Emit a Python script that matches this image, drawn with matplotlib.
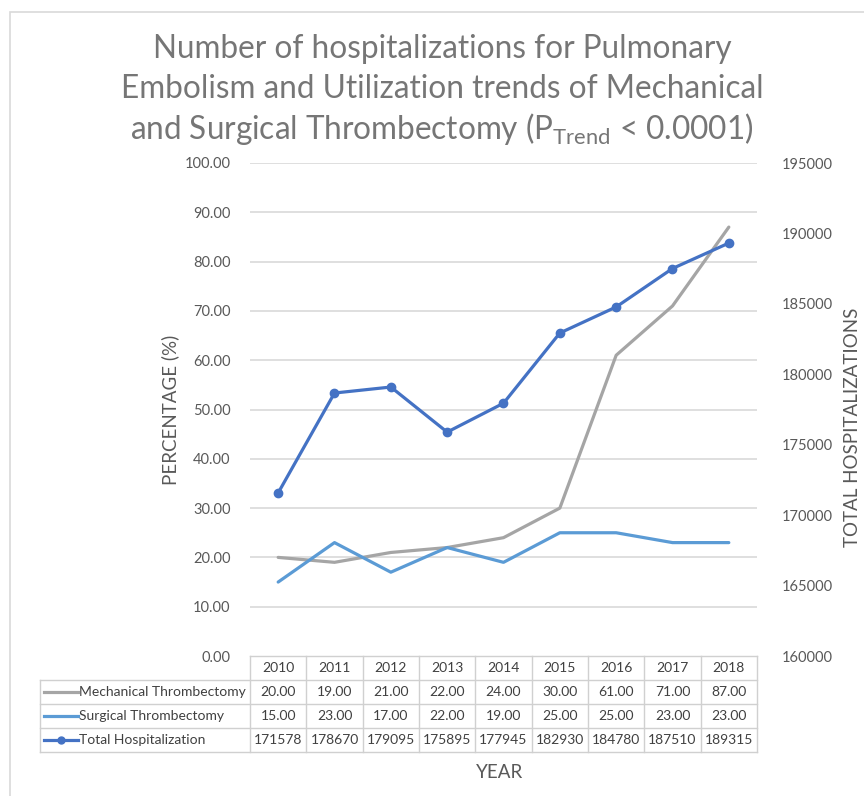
import numpy as np
import matplotlib
matplotlib.use("Agg")
import matplotlib.pyplot as plt
from matplotlib.lines import Line2D
from matplotlib.patches import Rectangle

plt.rcParams['font.family'] = ['Lato', 'DejaVu Sans']

# data
years = ['2010', '2011', '2012', '2013', '2014', '2015', '2016', '2017', '2018']
mechanical = [20.00, 19.00, 21.00, 22.00, 24.00, 30.00, 61.00, 71.00, 87.00]
surgical = [15.00, 23.00, 17.00, 22.00, 19.00, 25.00, 25.00, 23.00, 23.00]
total = [171578, 178670, 179095, 175895, 177945, 182930, 184780, 187510, 189315]
series_names = ['Mechanical Thrombectomy', 'Surgical Thrombectomy', 'Total Hospitalization']

c_mech = '#A5A5A5'
c_surg = '#5B9BD5'
c_total = '#4472C4'
c_grid = '#D9D9D9'
c_text = '#595959'

W, H = 864, 796
fig = plt.figure(figsize=(W / 100, H / 100), dpi=100)

def fx(px):
    return px / W

def fy(py):
    return 1 - py / H

# chart border (top and left visible)
fig.patches.append(Rectangle((fx(10), fy(H + 5)), fx(W + 10), fy(12) - fy(H + 5),
                             transform=fig.transFigure, fill=False,
                             edgecolor='#D9D9D9', lw=1.2))

left, right, top, bottom = 250, 757, 163, 656
ax = fig.add_axes([fx(left), fy(bottom), fx(right - left), fy(top) - fy(bottom)])
x = np.arange(len(years))

ax.plot(x, mechanical, color=c_mech, lw=2.3, solid_capstyle='round', zorder=3)
ax.plot(x, surgical, color=c_surg, lw=2.3, solid_capstyle='round', zorder=3)
ax.set_xlim(-0.5, len(years) - 0.5)
ax.set_ylim(0, 100)
ax.set_yticks(np.arange(0, 101, 10))
ax.set_yticklabels([f'{v:.2f}' for v in np.arange(0, 101, 10)])
ax.set_xticks([])
for v in range(10, 101, 10):
    ax.axhline(v, color=c_grid, lw=1.2, zorder=1)
for s in ax.spines.values():
    s.set_visible(False)
ax.tick_params(axis='y', length=0, pad=14, labelsize=10.5, labelcolor=c_text)

ax2 = ax.twinx()
ax2.plot(x, total, color=c_total, lw=2.3, marker='o', markersize=6, zorder=4)
ax2.set_ylim(160000, 195000)
ax2.set_yticks(np.arange(160000, 195001, 5000))
for s in ax2.spines.values():
    s.set_visible(False)
ax2.tick_params(axis='y', length=0, pad=18, labelsize=10.5, labelcolor=c_text)

# axis titles
fig.text(fx(170), fy(410), 'PERCENTAGE (%)', rotation=90, ha='center', va='center',
         fontsize=13.5, color=c_text)
fig.text(fx(852), fy(427), 'TOTAL HOSPITALIZATIONS', rotation=90, ha='center', va='center',
         fontsize=13.5, color=c_text)
fig.text(fx(500), fy(773), 'YEAR', ha='center', va='center', fontsize=13.5, color=c_text)

# title
title_lines = ['Number of hospitalizations for Pulmonary',
               'Embolism and Utilization trends of Mechanical',
               r'and Surgical Thrombectomy ($\mathregular{P_{Trend}}$ < 0.0001)']
for i, line in enumerate(title_lines):
    fig.text(fx(442), fy(49 + 40 * i), line, ha='center', va='center',
             fontsize=22.7, color='#767676')

# data table
t_left, t_top, t_bot = 40, 656, 752
col_w = (right - left) / len(years)
lab_w = (left - t_left) / col_w
tax = fig.add_axes([fx(t_left), fy(t_bot), fx(right - t_left), fy(t_top) - fy(t_bot)])
tax.set_xlim(-0.5 - lab_w, len(years) - 0.5)
tax.set_ylim(4, 0)
tax.axis('off')
lc = '#D0D0D0'
x0 = -0.5 - lab_w
x1 = len(years) - 0.5
tax.plot([-0.5, x1], [0, 0], color=lc, lw=1, clip_on=False)
for r in range(1, 5):
    tax.plot([x0, x1], [r, r], color=lc, lw=1, clip_on=False)
tax.plot([x0, x0], [1, 4], color=lc, lw=1, clip_on=False)
for k in range(len(years) + 1):
    tax.plot([k - 0.5, k - 0.5], [0, 4], color=lc, lw=1, clip_on=False)

tfs = 10
for i, yr in enumerate(years):
    tax.text(i, 0.5, yr, ha='center', va='center', fontsize=tfs, color='#404040')
rows = [[f'{v:.2f}' for v in mechanical],
        [f'{v:.2f}' for v in surgical],
        [f'{v}' for v in total]]
colors = [c_mech, c_surg, c_total]
for r, (name, vals, c) in enumerate(zip(series_names, rows, colors)):
    yy = r + 1.5
    for i, v in enumerate(vals):
        tax.text(i, yy, v, ha='center', va='center', fontsize=tfs, color='#404040')
    sx0 = x0 + 4 / col_w
    sx1 = x0 + 38 / col_w
    tax.add_line(Line2D([sx0, sx1], [yy, yy], color=c, lw=2.3, clip_on=False))
    if r == 2:
        tax.plot([(sx0 + sx1) / 2], [yy], 'o', color=c, markersize=5, clip_on=False)
    tax.text(x0 + 39 / col_w, yy, name, ha='left', va='center', fontsize=tfs, color='#404040')

fig.savefig('out.png', dpi=100)
